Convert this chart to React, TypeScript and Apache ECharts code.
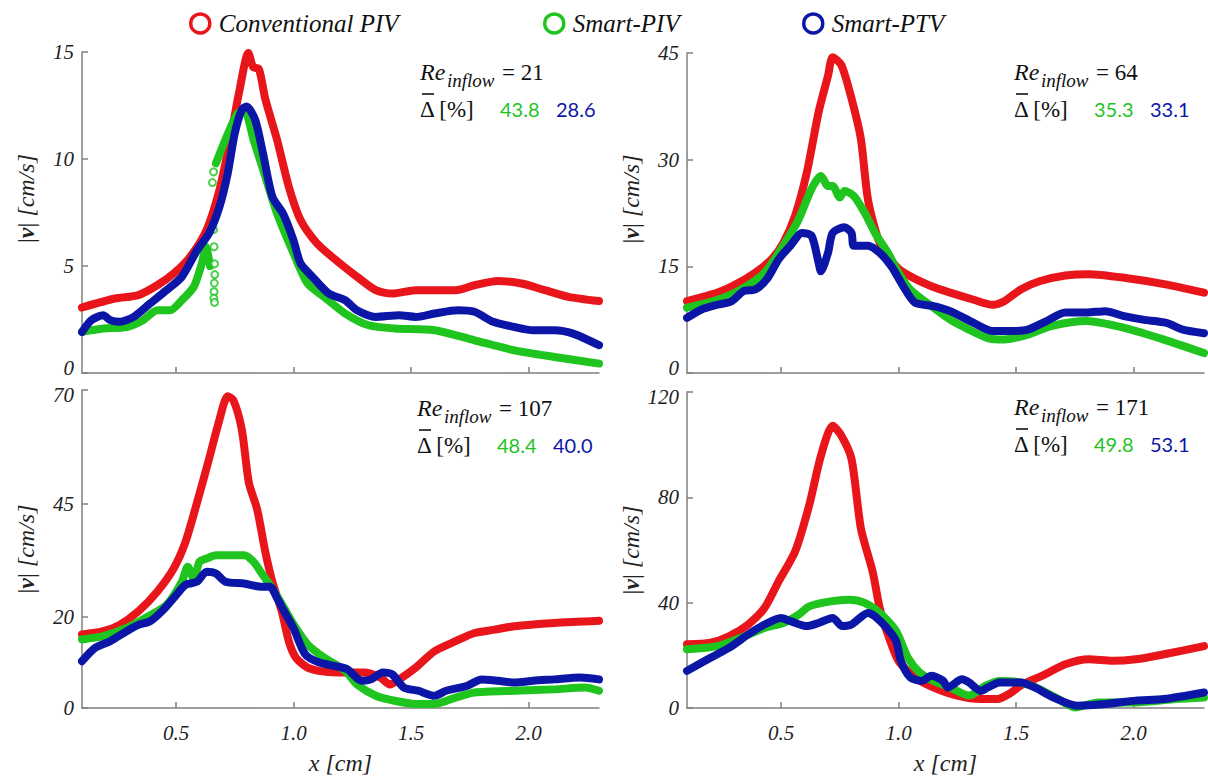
import React, { useEffect, useRef } from 'react';
import * as echarts from 'echarts';

const RED = '#e8161b';
const GREEN = '#1fc41f';
const BLUE = '#0c16a6';

const SERIES_NAMES = ['Conventional PIV', 'Smart-PIV', 'Smart-PTV'];
const RE_VALUES = ['21', '64', '107', '171'];
const DELTA_PIV = ['43.8', '35.3', '48.4', '49.8'];
const DELTA_PTV = ['28.6', '33.1', '40.0', '53.1'];
const Y_MAX = [15, 45, 70, 120];
const Y_TICKS = [[0, 5, 10, 15], [0, 15, 30, 45], [0, 20, 45, 70], [0, 40, 80, 120]];
const X_TICKS = [0.5, 1.0, 1.5, 2.0];
const X_MIN = 0.1;
const X_MAX = 2.3;

// Re = 21
const conv21 = [[0.1,3.06],[0.24,3.48],[0.34,3.64],[0.42,4.1],[0.49,4.65],[0.56,5.43],[0.63,6.68],[0.685,8.55],[0.727,10.7],[0.77,13.2],[0.808,14.95],[0.828,14.3],[0.853,14.2],[0.88,12.8],[0.93,10.9],[0.98,8.7],[1.03,7.15],[1.1,6.06],[1.18,5.28],[1.27,4.5],[1.35,3.87],[1.42,3.71],[1.52,3.87],[1.69,3.87],[1.77,4.1],[1.87,4.3],[1.97,4.18],[2.07,3.87],[2.17,3.56],[2.3,3.36]];
const piv21 = [[0.1,1.92],[0.19,2.08],[0.29,2.15],[0.36,2.47],[0.42,2.93],[0.475,2.93],[0.525,3.4],[0.576,4.03],[0.61,5.12],[0.627,5.9],[0.645,5.0],[0.655,'-'],[0.67,9.8],[0.71,10.9],[0.76,12.1],[0.79,12.3],[0.83,10.9],[0.88,9.18],[0.93,7.46],[1.0,5.6],[1.06,4.18],[1.13,3.56],[1.22,2.78],[1.32,2.23],[1.43,2.08],[1.6,2.0],[1.77,1.53],[1.94,1.06],[2.11,0.75],[2.3,0.44]];
const pivScatter21 = [[0.66,6.7],[0.662,5.9],[0.664,5.1],[0.665,4.6],[0.663,4.2],[0.662,3.8],[0.661,3.5],[0.664,3.3],[0.655,8.9],[0.66,9.4]];
const ptv21 = [[0.1,1.92],[0.14,2.47],[0.19,2.7],[0.22,2.47],[0.26,2.39],[0.32,2.62],[0.39,3.25],[0.46,3.87],[0.525,4.5],[0.59,5.74],[0.64,6.52],[0.685,7.77],[0.72,9.33],[0.75,11.2],[0.78,12.3],[0.8,12.45],[0.837,11.83],[0.87,10.27],[0.91,8.24],[0.955,7.46],[1.0,6.2],[1.03,5.12],[1.08,4.5],[1.15,3.71],[1.22,3.4],[1.27,2.93],[1.35,2.62],[1.45,2.7],[1.52,2.62],[1.6,2.78],[1.7,2.93],[1.77,2.86],[1.85,2.39],[1.94,2.15],[2.02,2.0],[2.11,2.0],[2.19,1.84],[2.3,1.3]];

// Re = 64
const conv64 = [[0.1,10.1],[0.23,11.3],[0.31,12.5],[0.39,14.1],[0.46,16.0],[0.51,18.3],[0.56,22.1],[0.61,28.2],[0.66,36.7],[0.7,41.8],[0.72,44.4],[0.757,43.3],[0.8,38.6],[0.84,32.9],[0.87,24.4],[0.92,18.3],[0.99,15.0],[1.05,13.6],[1.14,12.2],[1.22,11.3],[1.32,10.3],[1.4,9.6],[1.45,10.1],[1.52,11.75],[1.6,12.9],[1.71,13.7],[1.81,13.9],[1.96,13.4],[2.13,12.5],[2.3,11.3]];
const piv64 = [[0.1,9.2],[0.23,10.3],[0.33,11.75],[0.43,14.1],[0.51,17.9],[0.575,21.6],[0.63,25.9],[0.67,27.7],[0.7,26.3],[0.72,26.3],[0.75,24.7],[0.77,25.6],[0.81,24.9],[0.855,22.6],[0.9,19.7],[0.955,16.9],[1.0,14.1],[1.05,11.75],[1.14,9.4],[1.22,7.5],[1.3,6.1],[1.38,4.9],[1.45,4.7],[1.55,5.4],[1.65,6.6],[1.8,7.3],[1.96,6.35],[2.13,4.7],[2.3,2.8]];
const ptv64 = [[0.1,7.75],[0.16,8.9],[0.23,9.6],[0.29,10.1],[0.34,11.5],[0.39,11.75],[0.44,13.2],[0.49,16.0],[0.54,17.9],[0.59,19.7],[0.63,19.3],[0.66,15.5],[0.67,14.3],[0.7,16.9],[0.72,19.7],[0.77,20.5],[0.8,19.7],[0.81,17.9],[0.87,17.9],[0.92,16.9],[0.97,15.0],[1.02,12.2],[1.07,9.9],[1.15,9.4],[1.22,8.7],[1.32,7.05],[1.4,5.9],[1.48,5.9],[1.55,6.1],[1.63,7.3],[1.71,8.5],[1.8,8.5],[1.88,8.7],[1.96,8.0],[2.04,7.5],[2.14,7.05],[2.21,6.1],[2.3,5.6]];

// Re = 107
const conv107 = [[0.1,16.2],[0.19,16.9],[0.26,18.3],[0.34,21.3],[0.42,25.6],[0.49,30.7],[0.54,36.5],[0.59,45.3],[0.64,54.7],[0.685,63.5],[0.72,68.6],[0.744,67.8],[0.78,61.3],[0.81,49.6],[0.845,43.8],[0.88,34.4],[0.91,27.8],[0.95,21.3],[0.98,14.7],[1.01,11.1],[1.06,8.9],[1.13,8.0],[1.22,7.8],[1.3,7.8],[1.37,6.7],[1.41,5.2],[1.45,6.3],[1.52,8.9],[1.6,12.5],[1.69,14.7],[1.77,16.5],[1.85,17.2],[1.94,18.0],[2.11,18.7],[2.3,19.2]];
const piv107 = [[0.1,15.1],[0.19,15.8],[0.29,17.6],[0.37,19.8],[0.46,22.7],[0.525,27.8],[0.55,31.1],[0.576,28.5],[0.6,32.2],[0.63,32.9],[0.67,33.6],[0.71,33.6],[0.79,33.6],[0.83,32.2],[0.86,30.0],[0.91,26.3],[0.96,22.0],[1.01,17.6],[1.06,14.0],[1.13,11.1],[1.22,8.2],[1.27,5.2],[1.35,2.7],[1.43,1.6],[1.52,0.9],[1.6,0.9],[1.69,2.3],[1.77,3.4],[1.94,3.8],[2.11,4.1],[2.24,4.5],[2.3,3.8]];
const ptv107 = [[0.1,10.3],[0.155,13.2],[0.22,14.7],[0.29,16.9],[0.34,18.3],[0.39,19.1],[0.44,21.3],[0.49,24.2],[0.54,27.1],[0.59,27.8],[0.63,30.0],[0.67,29.6],[0.71,27.8],[0.79,27.4],[0.86,26.7],[0.9,26.7],[0.93,24.2],[0.96,21.3],[1.0,17.6],[1.05,11.8],[1.11,10.0],[1.18,9.2],[1.23,8.5],[1.29,6.0],[1.33,6.3],[1.38,7.8],[1.42,7.4],[1.47,4.5],[1.53,3.8],[1.6,2.7],[1.65,3.8],[1.74,4.9],[1.8,6.3],[1.87,6.0],[1.94,5.6],[2.02,6.0],[2.11,6.3],[2.22,6.7],[2.3,6.3]];

// Re = 171
const conv171 = [[0.1,24.2],[0.2,24.8],[0.28,27.3],[0.36,31.7],[0.43,38.0],[0.49,48.1],[0.56,59.4],[0.62,77.0],[0.67,95.8],[0.72,107.2],[0.757,103.4],[0.8,94.6],[0.84,68.2],[0.89,51.8],[0.92,38.0],[0.955,27.9],[1.0,17.9],[1.07,11.6],[1.15,7.8],[1.25,4.7],[1.35,3.4],[1.42,3.4],[1.47,5.3],[1.53,9.1],[1.61,12.2],[1.71,16.6],[1.81,18.5],[1.91,17.9],[2.01,18.5],[2.13,20.4],[2.3,23.5]];
const piv171 = [[0.1,22.3],[0.23,23.5],[0.33,26.7],[0.43,30.4],[0.51,32.3],[0.575,35.5],[0.62,38.6],[0.71,40.5],[0.79,41.1],[0.856,39.9],[0.92,36.1],[0.99,29.2],[1.04,19.1],[1.09,13.5],[1.15,10.3],[1.22,7.8],[1.3,4.7],[1.37,8.4],[1.43,10.3],[1.52,9.7],[1.6,7.2],[1.68,3.4],[1.75,0.2],[1.85,2.1],[2.01,2.1],[2.18,3.4],[2.3,4.0]];
const ptv171 = [[0.1,14.1],[0.2,19.1],[0.28,22.9],[0.36,27.9],[0.43,31.7],[0.5,34.2],[0.54,33.0],[0.61,31.1],[0.66,32.3],[0.72,34.2],[0.76,31.1],[0.8,31.7],[0.87,36.1],[0.9,34.8],[0.95,30.4],[0.99,25.4],[1.01,17.9],[1.05,11.6],[1.1,10.3],[1.14,12.2],[1.19,10.3],[1.21,7.8],[1.27,10.9],[1.3,9.7],[1.35,6.5],[1.38,7.8],[1.43,9.7],[1.52,9.7],[1.58,7.8],[1.66,4.0],[1.76,0.9],[1.88,1.5],[2.01,2.8],[2.13,3.4],[2.3,5.9]];

const PANEL_DATA = [
  [conv21, piv21, ptv21],
  [conv64, piv64, ptv64],
  [conv107, piv107, ptv107],
  [conv171, piv171, ptv171],
];

const COLORS = [RED, GREEN, BLUE];

const GRIDS = [
  { left: 82, top: 52, width: 517, height: 321 },
  { left: 687, top: 53, width: 517, height: 320 },
  { left: 82, top: 390, width: 517, height: 321 },
  { left: 687, top: 392, width: 517, height: 319 },
];

const ANNO_POS = [
  { x: 420, y: 72 },
  { x: 1014, y: 72 },
  { x: 417, y: 408 },
  { x: 1014, y: 407 },
];

const SERIF = 'Liberation Serif';
const SANS = 'Lato';

function annotation(i: number) {
  const { x, y } = ANNO_POS[i];
  const t = (dx: number, dy: number, text: string, font: string, fill = '#111') => ({
    type: 'text',
    x: x + dx,
    y: y + dy,
    style: { text, font, fill, verticalAlign: 'middle' },
  });
  return {
    type: 'group',
    children: [
      t(0, 0, 'Re', `italic 24px ${SERIF}`),
      t(27, 8, 'inflow', `italic 19px ${SERIF}`),
      t(82, 0, '= ' + RE_VALUES[i], `23px ${SERIF}`),
      t(0, 37, 'Δ [%]', `23px ${SERIF}`),
      { type: 'line', shape: { x1: x + 2, y1: y + 22, x2: x + 14, y2: y + 22 }, style: { stroke: '#111', lineWidth: 1.6 } },
      t(80, 37, DELTA_PIV[i], `20px ${SANS}`, GREEN),
      t(136, 37, DELTA_PTV[i], `20px ${SANS}`, BLUE),
    ],
  };
}

const LEGEND_POS = [184, 538, 797];

export default function App() {
  const ref = useRef<HTMLDivElement>(null);
  useEffect(() => {
    if (!ref.current) return;
    const chart = echarts.init(ref.current, undefined, { renderer: 'svg' });
    const axisLineStyle = { color: '#7f7f7f', width: 1.5 };
    const labelFont = { fontFamily: SERIF, fontStyle: 'italic', fontSize: 21, color: '#222' };

    const xAxis = GRIDS.map((_, i) => ({
      type: 'value',
      gridIndex: i,
      min: X_MIN,
      max: X_MAX,
      name: i >= 2 ? 'x [cm]' : '',
      nameLocation: 'middle',
      nameGap: 43,
      nameTextStyle: { fontFamily: SERIF, fontStyle: 'italic', fontSize: 24, color: '#222' },
      axisLine: { show: true, lineStyle: axisLineStyle },
      axisTick: { show: true, inside: true, length: 6, customValues: X_TICKS, lineStyle: axisLineStyle },
      axisLabel: {
        show: i >= 2,
        customValues: X_TICKS,
        formatter: (v: number) => v.toFixed(1),
        margin: 14,
        ...labelFont,
      },
      splitLine: { show: false },
    }));

    const yAxis = GRIDS.map((_, i) => ({
      type: 'value',
      gridIndex: i,
      min: 0,
      max: Y_MAX[i],
      name: '{n||}{v|v}{n||} [cm/s]',
      nameLocation: 'middle',
      nameRotate: 90,
      nameGap: 44,
      nameTextStyle: {
        fontFamily: SERIF,
        fontStyle: 'italic',
        fontSize: 24,
        color: '#222',
        padding: i < 2 ? [0, 0, 0, 28] : [0, 0, 0, 0],
        rich: {
          n: { fontFamily: SERIF, fontStyle: 'normal', fontSize: 24, color: '#222' },
          v: { fontFamily: SERIF, fontStyle: 'italic', fontWeight: 'bold', fontSize: 24, color: '#222' },
        },
      },
      axisLine: { show: true, lineStyle: axisLineStyle },
      axisTick: { show: true, inside: true, length: 6, customValues: Y_TICKS[i], lineStyle: axisLineStyle },
      axisLabel: {
        show: true,
        customValues: Y_TICKS[i],
        margin: 8,
        lineHeight: 10,
        formatter: (v: number) => {
          if (i < 2 && v === 0) return '0\n';
          if (i >= 2 && v === Y_MAX[i]) return '\n' + v;
          return String(v);
        },
        ...labelFont,
      },
      splitLine: { show: false },
    }));

    const series: any[] = [];
    PANEL_DATA.forEach((panel, i) => {
      panel.forEach((data, k) => {
        series.push({
          type: 'line',
          name: SERIES_NAMES[k],
          xAxisIndex: i,
          yAxisIndex: i,
          data,
          showSymbol: false,
          symbol: 'none',
          smooth: 0.25,
          connectNulls: false,
          lineStyle: { color: COLORS[k], width: 8, cap: 'round', join: 'round' },
          itemStyle: { color: COLORS[k] },
          z: 2 + k,
        });
      });
    });
    series.push({
      type: 'scatter',
      name: SERIES_NAMES[1],
      xAxisIndex: 0,
      yAxisIndex: 0,
      data: pivScatter21,
      symbol: 'emptyCircle',
      symbolSize: 7,
      itemStyle: { color: GREEN, borderColor: GREEN, borderWidth: 1 },
      z: 3,
    });

    const legend = SERIES_NAMES.map((name, k) => ({
      left: LEGEND_POS[k],
      top: 6,
      selectedMode: false,
      itemWidth: 19,
      itemHeight: 19,
      data: [{ name, icon: 'circle', itemStyle: { color: '#ffffff', borderColor: COLORS[k], borderWidth: 3.5 } }],
      textStyle: { fontFamily: SERIF, fontStyle: 'italic', fontSize: 25, color: '#111', padding: [0, 0, 0, 4] },
    }));

    chart.setOption({
      animation: false,
      backgroundColor: '#ffffff',
      legend,
      grid: GRIDS.map((g) => ({ ...g, containLabel: false })),
      xAxis,
      yAxis,
      series,
      graphic: [0, 1, 2, 3].map((i) => annotation(i)),
    });
    return () => chart.dispose();
  }, []);

  return (
    <div
      ref={ref}
      style={{ position: 'fixed', left: 0, top: 0, width: 1208, height: 776, background: '#fff' }}
    />
  );
}
